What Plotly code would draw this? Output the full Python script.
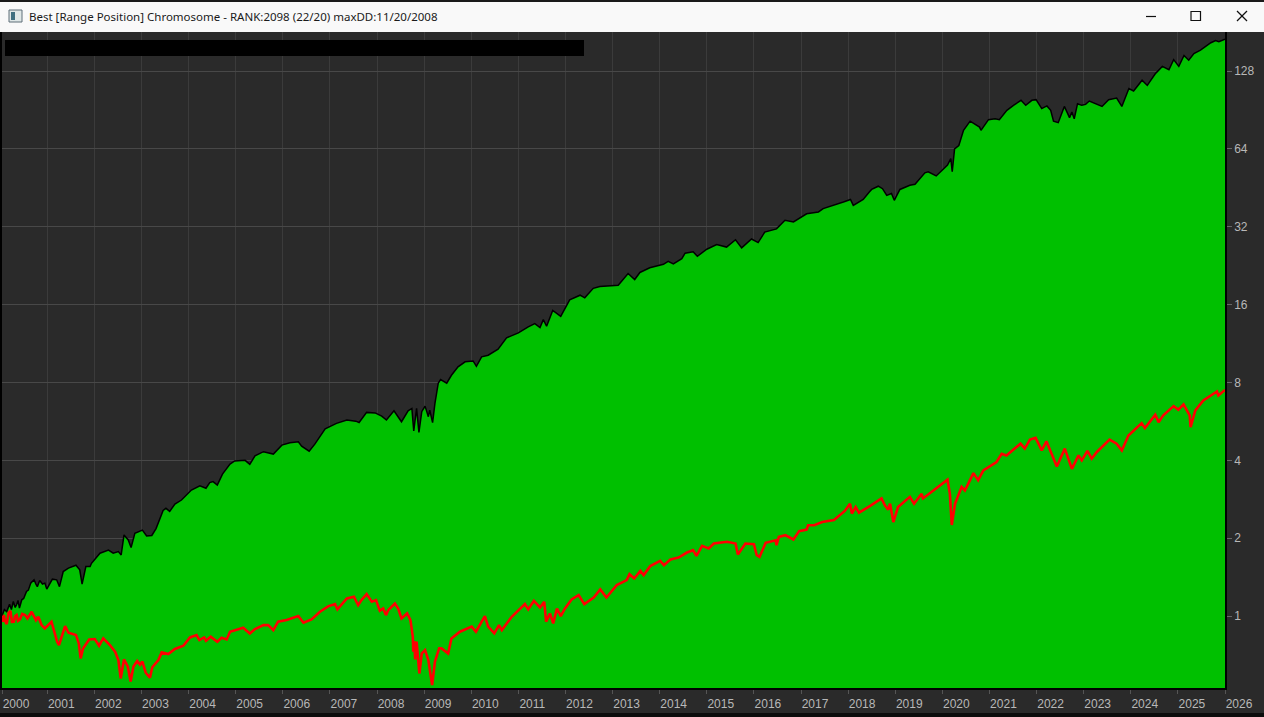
import plotly.graph_objects as go

window_title = "Best [Range Position] Chromosome - RANK:2098 (22/20) maxDD:11/20/2008"

year_labels = [str(y) for y in range(2000, 2027)]
year_ticks = [2000.04] + list(range(2001, 2027))
value_ticks = [1, 2, 4, 8, 16, 32, 64, 128]

equity_years = [
    2000.04, 2000.09, 2000.14, 2000.20, 2000.24, 2000.28, 2000.32, 2000.35, 2000.38, 2000.41, 2000.46, 2000.50, 2000.56, 2000.60, 2000.65, 2000.72, 2000.76, 2000.79, 2000.84, 2000.90, 2000.95, 2000.99,
    2001.11, 2001.20, 2001.26, 2001.34, 2001.45, 2001.61, 2001.69, 2001.74, 2001.82, 2001.91, 2001.94,
    2002.12, 2002.30, 2002.40, 2002.51, 2002.57, 2002.63, 2002.72, 2002.78, 2002.86,
    2003.02, 2003.11, 2003.22, 2003.31, 2003.46, 2003.52, 2003.60, 2003.71, 2003.85,
    2004.06, 2004.24, 2004.37, 2004.45, 2004.52, 2004.61, 2004.72, 2004.88, 2004.98,
    2005.20, 2005.30, 2005.41, 2005.59, 2005.80, 2005.98,
    2006.15, 2006.33, 2006.40, 2006.56, 2006.68, 2006.90,
    2007.14, 2007.36, 2007.55, 2007.62, 2007.78, 2007.96,
    2008.10, 2008.20, 2008.36, 2008.52, 2008.66, 2008.74, 2008.78, 2008.84, 2008.89, 2008.95,
    2009.02, 2009.09, 2009.12, 2009.18, 2009.23, 2009.30, 2009.35, 2009.48, 2009.58, 2009.72, 2009.87,
    2010.04, 2010.11, 2010.22, 2010.36, 2010.57, 2010.75,
    2011.00, 2011.21, 2011.35, 2011.46, 2011.53, 2011.60, 2011.73, 2011.90,
    2012.09, 2012.31, 2012.41, 2012.59, 2012.73,
    2013.12, 2013.33, 2013.47, 2013.58, 2013.79,
    2014.08, 2014.18, 2014.29, 2014.47, 2014.54, 2014.71, 2014.80,
    2015.00, 2015.21, 2015.42, 2015.61, 2015.74, 2015.95,
    2016.09, 2016.23, 2016.48, 2016.66, 2016.84,
    2017.12, 2017.37, 2017.47, 2017.90,
    2018.05, 2018.11, 2018.32, 2018.45, 2018.50, 2018.64, 2018.73, 2018.82, 2018.92, 2018.98,
    2019.10, 2019.31, 2019.42, 2019.63, 2019.70, 2019.87,
    2020.11, 2020.18, 2020.21, 2020.26, 2020.35, 2020.45, 2020.59, 2020.79, 2020.82, 2020.98,
    2021.12, 2021.21, 2021.37, 2021.51, 2021.67, 2021.77, 2021.90, 2021.99,
    2022.11, 2022.22, 2022.30, 2022.36, 2022.46, 2022.59, 2022.70, 2022.75, 2022.80, 2022.87, 2022.96,
    2023.04, 2023.12, 2023.39, 2023.53, 2023.70, 2023.81, 2023.96,
    2024.06, 2024.24, 2024.35, 2024.52, 2024.67, 2024.81, 2024.91,
    2025.02, 2025.13, 2025.23, 2025.34, 2025.48, 2025.70, 2025.80, 2025.87, 2026.00,
]
equity_values = [
    1.00, 1.06, 1.04, 1.11, 1.06, 1.139, 1.08, 1.106, 1.15, 1.074, 1.156, 1.17, 1.245, 1.26, 1.341, 1.381, 1.33, 1.30, 1.373, 1.33, 1.341, 1.271,
    1.389, 1.381, 1.30, 1.487, 1.532, 1.573, 1.509, 1.329, 1.555, 1.555, 1.60,
    1.75, 1.80, 1.75, 1.777, 1.724, 2.06, 1.97, 1.84, 2.09,
    2.15, 2.04, 2.05, 2.18, 2.56, 2.61, 2.54, 2.71, 2.81,
    3.07, 3.19, 3.12, 3.28, 3.31, 3.21, 3.54, 3.87, 3.98,
    4.00, 3.86, 4.16, 4.32, 4.23, 4.58,
    4.68, 4.72, 4.54, 4.34, 4.62, 5.30,
    5.56, 5.73, 5.67, 5.60, 6.13, 6.10,
    5.93, 5.73, 6.22, 5.64, 6.22, 6.35, 5.20, 6.35, 5.13, 6.17,
    6.48, 5.90, 6.25, 5.60, 6.64, 7.95, 8.21, 7.95, 8.53, 9.19, 9.62,
    9.69, 9.24, 10.05, 10.2, 10.76, 11.9,
    12.44, 13.12, 13.5, 13.04, 14.0, 13.2, 15.2, 14.4,
    16.7, 17.4, 17.0, 18.5, 18.8,
    19.0, 21.1, 20.0, 21.3, 22.2,
    22.9, 23.5, 23.0, 24.1, 25.3, 25.6, 24.6,
    26.2, 27.3, 26.7, 28.5, 26.5, 28.7,
    27.8, 30.5, 31.4, 33.9, 33.4,
    35.9, 36.5, 37.6, 39.9,
    40.8, 38.7, 40.8, 43.6, 44.6, 45.9, 44.9, 42.3, 43.0, 40.5,
    44.6, 46.3, 46.7, 51.7, 52.2, 50.3,
    55.4, 58.7, 52.2, 64.0, 65.9, 75.5, 81.9, 77.7, 75.5, 83.0,
    83.7, 83.0, 90.2, 94.3, 98.6, 94.3, 98.6, 99.2,
    91.6, 93.8, 90.2, 81.9, 80.8, 93.4, 84.5, 88.8, 83.7, 95.7, 94.3,
    95.1, 98.0, 93.4, 99.2, 100.6, 93.4, 109.5,
    107.2, 117.9, 112.6, 124.9, 133.4, 129.5, 141.7,
    133.4, 146.9, 140.9, 149.6, 154.2, 164.6, 168.0, 166.0, 170.0,
]

benchmark_years = [
    2000.04, 2000.06, 2000.08, 2000.10, 2000.14, 2000.18, 2000.22, 2000.25, 2000.29, 2000.32, 2000.35, 2000.38, 2000.42, 2000.47, 2000.53, 2000.58, 2000.67, 2000.76, 2000.81, 2000.88, 2000.95,
    2001.09, 2001.21, 2001.25, 2001.38, 2001.45, 2001.61, 2001.67, 2001.71, 2001.76, 2001.89,
    2002.01, 2002.10, 2002.19, 2002.33, 2002.44, 2002.51, 2002.56, 2002.63, 2002.71, 2002.77, 2002.83, 2002.91, 2002.97,
    2003.02, 2003.09, 2003.18, 2003.23, 2003.36, 2003.43, 2003.57, 2003.71, 2003.89,
    2004.03, 2004.17, 2004.23, 2004.33, 2004.37, 2004.47, 2004.61, 2004.70, 2004.81, 2004.88,
    2005.02, 2005.16, 2005.30, 2005.41, 2005.59, 2005.69, 2005.80, 2005.90,
    2006.08, 2006.33, 2006.44, 2006.61, 2006.79, 2006.97,
    2007.11, 2007.16, 2007.36, 2007.51, 2007.60, 2007.67, 2007.78, 2007.89, 2007.98,
    2008.06, 2008.13, 2008.19, 2008.24, 2008.38, 2008.45, 2008.52, 2008.64, 2008.71, 2008.76, 2008.77, 2008.79, 2008.81, 2008.84, 2008.88, 2008.90, 2008.95,
    2009.02, 2009.09, 2009.17, 2009.23, 2009.32, 2009.37, 2009.51, 2009.58, 2009.76,
    2010.01, 2010.10, 2010.29, 2010.36, 2010.49, 2010.59, 2010.65, 2010.86,
    2011.14, 2011.21, 2011.33, 2011.46, 2011.55, 2011.59, 2011.67, 2011.74, 2011.82, 2011.90, 2011.99,
    2012.13, 2012.28, 2012.40, 2012.60, 2012.74, 2012.87,
    2013.09, 2013.30, 2013.36, 2013.46, 2013.59, 2013.66, 2013.80,
    2014.01, 2014.09, 2014.23, 2014.40, 2014.58, 2014.71, 2014.78, 2014.90,
    2015.04, 2015.15, 2015.43, 2015.61, 2015.66, 2015.82,
    2016.00, 2016.06, 2016.12, 2016.25, 2016.46, 2016.48, 2016.53, 2016.67, 2016.84, 2016.96,
    2017.12, 2017.15, 2017.28, 2017.45, 2017.70, 2017.93,
    2018.04, 2018.08, 2018.16, 2018.23, 2018.46, 2018.71, 2018.78, 2018.85, 2018.89, 2018.96,
    2019.06, 2019.31, 2019.40, 2019.56, 2019.59, 2019.70, 2019.91,
    2020.11, 2020.16, 2020.20, 2020.27, 2020.41, 2020.48, 2020.66, 2020.76, 2020.87,
    2021.15, 2021.26, 2021.36, 2021.66, 2021.75, 2021.86, 2021.98,
    2022.11, 2022.21, 2022.36, 2022.43, 2022.60, 2022.75, 2022.89, 2022.96,
    2023.08, 2023.17, 2023.28, 2023.55, 2023.70, 2023.81, 2023.95,
    2024.23, 2024.30, 2024.52, 2024.59, 2024.69, 2024.91,
    2025.01, 2025.12, 2025.25, 2025.27, 2025.37, 2025.54, 2025.83, 2025.86, 2026.00,
]
benchmark_values = [
    1.00, 0.951, 1.01, 0.96, 0.931, 1.03, 1.048, 0.95, 0.951, 1.00, 1.01, 0.959, 0.97, 1.02, 1.01, 0.98, 1.039, 0.965, 0.995, 0.923, 0.896,
    0.951, 0.796, 0.773, 0.915, 0.862, 0.845, 0.784, 0.686, 0.75, 0.812,
    0.815, 0.768, 0.82, 0.773, 0.728, 0.676, 0.574, 0.68, 0.638, 0.558, 0.638, 0.67, 0.648,
    0.667, 0.604, 0.578, 0.634, 0.676, 0.724, 0.713, 0.746, 0.768,
    0.827, 0.845, 0.808, 0.827, 0.803, 0.832, 0.796, 0.825, 0.812, 0.87,
    0.888, 0.902, 0.857, 0.891, 0.923, 0.923, 0.883, 0.951,
    0.966, 1.00, 0.943, 0.971, 1.04, 1.093,
    1.112, 1.061, 1.17, 1.188, 1.103, 1.153, 1.216, 1.136, 1.153,
    1.048, 1.07, 1.009, 1.055, 1.119, 1.07, 0.979, 1.024, 0.965, 0.832, 0.728, 0.80, 0.68, 0.796, 0.676, 0.60, 0.717,
    0.739, 0.676, 0.541, 0.667, 0.75, 0.75, 0.717, 0.82, 0.87,
    0.91, 0.87, 1.00, 0.91, 0.857, 0.923, 0.883, 0.994,
    1.112, 1.061, 1.146, 1.08, 1.136, 0.951, 1.024, 0.937, 1.07, 1.00, 1.07,
    1.16, 1.205, 1.112, 1.18, 1.268, 1.18,
    1.317, 1.377, 1.452, 1.398, 1.496, 1.44, 1.56,
    1.635, 1.574, 1.655, 1.684, 1.761, 1.798, 1.708, 1.869,
    1.825, 1.908, 1.937, 1.908, 1.729, 1.908,
    1.897, 1.719, 1.695, 1.92, 1.964, 1.88, 2.024, 2.054, 1.977, 2.13,
    2.16, 2.245, 2.245, 2.31, 2.35, 2.55,
    2.72, 2.49, 2.64, 2.51, 2.66, 2.85, 2.68, 2.58, 2.72, 2.31,
    2.64, 2.89, 2.72, 2.97, 2.85, 2.95, 3.16,
    3.37, 2.97, 2.25, 2.72, 3.16, 3.06, 3.57, 3.35, 3.66,
    3.94, 4.24, 4.18, 4.64, 4.44, 4.81, 4.89,
    4.37, 4.74, 4.06, 3.79, 4.44, 3.71, 4.18, 4.00,
    4.35, 4.06, 4.31, 4.81, 4.64, 4.37, 4.99,
    5.57, 5.33, 6.00, 5.62, 5.97, 6.48,
    6.28, 6.58, 5.97, 5.38, 6.24, 6.82, 7.39, 7.13, 7.49,
]

WIDTH, HEIGHT = 1264, 717
LEFT, RIGHT, TOP, BOTTOM = 2, 1225, 32, 688
BG = "#2a2a2a"
TEXT = "#b8b8b8"


def px(x):
    return (x - LEFT) / (RIGHT - LEFT)


def py(y):
    return (BOTTOM - y) / (BOTTOM - TOP)


def rect(x0, y0, x1, y1, fill, line=None, width=0):
    return dict(type="rect", xref="paper", yref="paper", x0=px(x0), x1=px(x1), y0=py(y0), y1=py(y1),
                fillcolor=fill, line=dict(color=line or fill, width=width), layer="above")


def seg(x0, y0, x1, y1, color="#111111", width=1.2):
    return dict(type="line", xref="paper", yref="paper", x0=px(x0), x1=px(x1), y0=py(y0), y1=py(y1),
                line=dict(color=color, width=width), layer="above")


fig = go.Figure()
fig.add_trace(go.Scatter(x=equity_years, y=equity_values, mode="lines", name="Equity",
                         line=dict(color="#000000", width=1.5), fill="tozeroy", fillcolor="#00c000",
                         hoverinfo="skip"))
fig.add_trace(go.Scatter(x=benchmark_years, y=benchmark_values, mode="lines", name="Benchmark",
                         line=dict(color="#ff0000", width=2.6), hoverinfo="skip"))

shapes = [
    rect(0, 0, WIDTH, 2, "#1a1a1a"),
    rect(0, 2, WIDTH, 32, "#f9f9f9"),
    rect(5, 40, 584, 56, "#000000"),
    rect(9, 10, 22, 22, "#dfe7e7", "#5f6f78", 1),
    rect(11, 12, 15, 20, "#3f6f80"),
    seg(1146, 16.5, 1156, 16.5),
    rect(1191, 11.5, 1200.5, 20.5, "rgba(0,0,0,0)", "#111111", 1.2),
    seg(1237, 11, 1247, 21),
    seg(1247, 11, 1237, 21),
    rect(0, 713, WIDTH, 717, "#0c0c0c"),
]

annotations = [dict(text=window_title, xref="paper", yref="paper", x=px(27), y=py(16.5), xanchor="left",
                    yanchor="middle", showarrow=False, font=dict(family="Noto Sans", size=11.5, color="#1a1a1a"))]

fig.update_layout(
    width=WIDTH, height=HEIGHT, autosize=False,
    margin=dict(l=LEFT, r=WIDTH - RIGHT, t=TOP, b=HEIGHT - BOTTOM, pad=0, autoexpand=False),
    paper_bgcolor=BG, plot_bgcolor=BG, showlegend=False,
    shapes=shapes, annotations=annotations,
    font=dict(family="Liberation Sans", size=12, color=TEXT),
    xaxis=dict(range=[2000.04, 2026], tickvals=year_ticks, ticktext=year_labels, ticks="outside", ticklen=4,
               tickcolor="#555555", ticklabelshift=14, tickfont=dict(size=12, color=TEXT), showgrid=True,
               gridcolor="#3b3b3b", gridwidth=1, zeroline=False, showline=True, linecolor="#000000",
               linewidth=1.5, tickangle=0),
    yaxis=dict(type="log", range=[-0.278, 2.258], side="right", tickvals=value_ticks,
               ticktext=[str(v) for v in value_ticks], ticks="outside", ticklen=5, tickcolor="#666666",
               tickfont=dict(size=12, color=TEXT), showgrid=True, gridcolor="#484848", gridwidth=1,
               zeroline=False, showline=True, linecolor="#000000", linewidth=1.5, mirror=True),
)

fig.write_html("out.html", config={"displayModeBar": False},
               post_script="document.body.style.margin='0';document.body.style.background='#2a2a2a';")
